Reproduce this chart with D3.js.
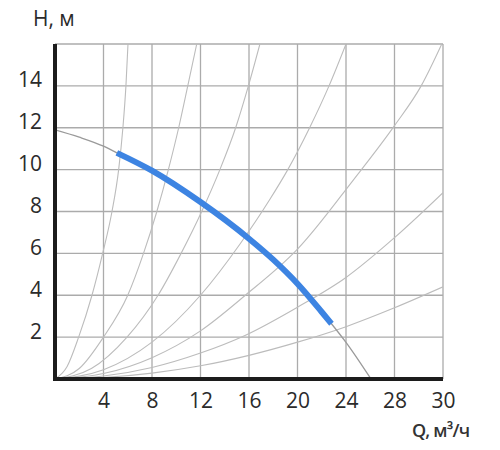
<!DOCTYPE html>
<html>
<head>
<meta charset="utf-8">
<script src="https://cdn.jsdelivr.net/npm/d3@7"></script>
<style>
  html, body { margin: 0; padding: 0; background: #ffffff; }
  svg { display: block; }
</style>
</head>
<body>
<svg id="chart" width="500" height="450"></svg>
<script>
// ---- data ----
const xTickValues = [4, 8, 12, 16, 20, 24, 28, 32];
const xTickLabels = ["4", "8", "12", "16", "20", "24", "28", "30"];
const yTickValues = [2, 4, 6, 8, 10, 12, 14];
const yTickLabels = ["2", "4", "6", "8", "10", "12", "14"];
const xGrid = [4, 8, 12, 16, 20, 24, 28, 32];
const yGrid = [2, 4, 6, 8, 10, 12, 14, 16];

// pump curve (grey, full) Q [m3/h], H [m]
const pumpQ = [0, 2, 4, 5.1, 8, 12, 16, 18, 20, 22, 22.8, 24, 26.06];
const pumpH = [11.9, 11.55, 11.12, 10.8, 9.95, 8.45, 6.7, 5.7, 4.55, 3.2, 2.64, 1.75, 0];
// working range (blue)
const workQ = [5.1, 8, 12, 16, 18, 20, 22, 22.8];
const workH = [10.8, 9.95, 8.45, 6.7, 5.7, 4.55, 3.2, 2.64];

// system curves (thin grey)
const sys1Q = [0, 1, 1.95, 3.05, 3.93, 4.7, 5.25, 5.6, 5.85, 6.02];
const sys1H = [0, 0.6, 2, 4, 6, 8, 10, 12, 14, 16];
const sys2Q = [0, 2, 4, 6, 7.3, 8.4, 9.35, 10.2, 10.95, 11.69];
const sys2H = [0, 0.5, 2, 4, 6, 8, 10, 12, 14, 16];
const sys3Q = [0, 3, 5.94, 8.5, 10.4, 12.1, 13.6, 14.9, 15.95, 16.9];
const sys3H = [0, 0.5, 2, 4, 6, 8, 10, 12, 14, 16];
const sys4Q = [0, 4, 8, 12, 15.26, 17.7, 19.2, 21, 22.6, 24];
const sys4H = [0, 0.44, 1.76, 4, 6.45, 8.56, 10, 12, 14, 16];
const sys5Q = [0, 4, 8, 12, 15.7, 20, 24.6, 28, 30.2, 31.9];
const sys5H = [0, 0.26, 1.02, 2.3, 4, 6.2, 9.5, 12.1, 14, 16];
const sys6Q = [0, 4, 8, 12, 15.67, 20, 24, 28, 32];
const sys6H = [0, 0.14, 0.55, 1.24, 2.08, 3.43, 4.85, 6.75, 8.9];
const sys7Q = [0, 4, 8, 12, 16, 20, 24, 28, 32];
const sys7H = [0, 0.07, 0.28, 0.63, 1.13, 1.76, 2.5, 3.4, 4.4];

const systemCurves = [
  [sys1Q, sys1H], [sys2Q, sys2H], [sys3Q, sys3H], [sys4Q, sys4H],
  [sys5Q, sys5H], [sys6Q, sys6H], [sys7Q, sys7H]
];

// ---- drawing ----
const svg = d3.select("#chart");
const x = d3.scaleLinear().domain([0, 32]).range([55, 443]);
const y = d3.scaleLinear().domain([0, 16]).range([379, 44]);

const toPts = (qs, hs) => qs.map((q, i) => [q, hs[i]]);
const line = d3.line().x(d => x(d[0])).y(d => y(d[1])).curve(d3.curveMonotoneX);

svg.append("defs").append("clipPath").attr("id", "plot")
  .append("rect").attr("x", x(0)).attr("y", y(16))
  .attr("width", x(32) - x(0)).attr("height", y(0) - y(16));

// grid
const grid = svg.append("g");
grid.selectAll("line.v").data(xGrid).join("line")
  .attr("class", "v")
  .attr("x1", d => x(d)).attr("x2", d => x(d))
  .attr("y1", y(0)).attr("y2", y(16))
  .attr("stroke", "#ababab").attr("stroke-width", 1.3);
grid.selectAll("line.h").data(yGrid).join("line")
  .attr("class", "h")
  .attr("x1", x(0)).attr("x2", x(32))
  .attr("y1", d => y(d)).attr("y2", d => y(d))
  .attr("stroke", "#ababab").attr("stroke-width", 1.3);

const plot = svg.append("g").attr("clip-path", "url(#plot)");
plot.selectAll("path.sys").data(systemCurves).join("path")
  .attr("class", "sys")
  .attr("d", d => line(toPts(d[0], d[1])))
  .attr("fill", "none").attr("stroke", "#bcbcbc").attr("stroke-width", 1.1);

plot.append("path")
  .attr("d", line(toPts(pumpQ, pumpH)))
  .attr("fill", "none").attr("stroke", "#9a9a9a").attr("stroke-width", 1.3);

plot.append("path")
  .attr("d", line(toPts(workQ, workH)))
  .attr("fill", "none").attr("stroke", "#3d84e2").attr("stroke-width", 6);

// axes
const xAxis = d3.axisBottom(x).tickValues(xTickValues)
  .tickFormat((d, i) => xTickLabels[i]).tickSize(0);
const gx = svg.append("g").attr("transform", `translate(0,${y(0)})`).call(xAxis);
gx.select(".domain").remove();
gx.selectAll("text").attr("y", 29).attr("dy", "0")
  .style("font-family", "'Open Sans', sans-serif").style("font-size", "21px").attr("fill", "#2b2b2b");

const yAxis = d3.axisLeft(y).tickValues(yTickValues)
  .tickFormat((d, i) => yTickLabels[i]).tickSize(0).tickPadding(13);
const gy = svg.append("g").attr("transform", `translate(${x(0)},0)`).call(yAxis);
gy.select(".domain").remove();
gy.selectAll("text").attr("dy", "0.05em")
  .style("font-family", "'Open Sans', sans-serif").style("font-size", "21px").attr("fill", "#2b2b2b");

// thick axis lines
svg.append("line").attr("x1", x(0)).attr("x2", x(0)).attr("y1", y(16)).attr("y2", y(0) + 2)
  .attr("stroke", "#1c1c1c").attr("stroke-width", 4);
svg.append("line").attr("x1", x(0) - 2).attr("x2", x(32)).attr("y1", y(0)).attr("y2", y(0))
  .attr("stroke", "#1c1c1c").attr("stroke-width", 4);

// axis titles
svg.append("text").attr("x", 33).attr("y", 26)
  .style("font-family", "'Open Sans', sans-serif").style("font-size", "21px")
  .attr("fill", "#2b2b2b").text("H, м");
svg.append("text").attr("x", 412).attr("y", 437)
  .style("font-family", "'Open Sans', sans-serif").style("font-size", "18px")
  .style("font-weight", "600").style("letter-spacing", "-0.8px")
  .attr("fill", "#333").text("Q, м³/ч");
</script>
</body>
</html>
